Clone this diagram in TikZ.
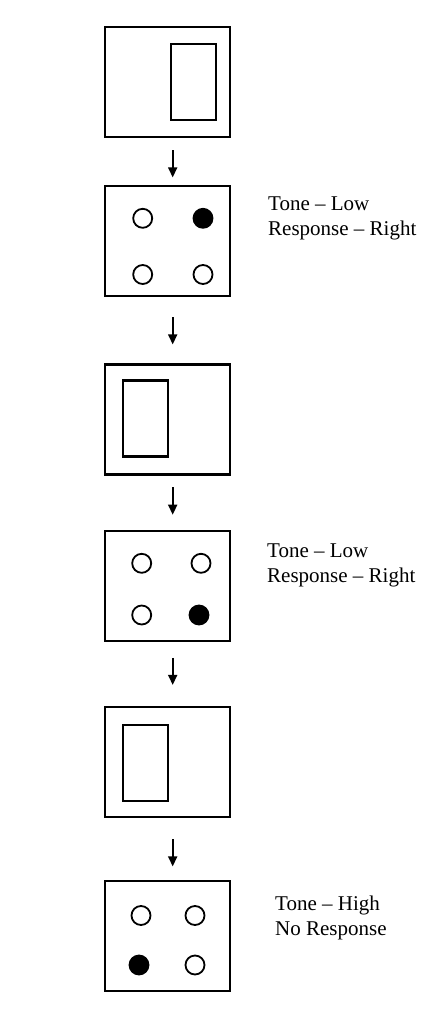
\documentclass[tikz,border=0pt]{standalone}
\usepackage{fontspec}
\setmainfont{Liberation Serif}
\usetikzlibrary{arrows.meta}

\begin{document}
\begin{tikzpicture}[
		x=1pt, y=-1pt,
		screen/.style={rectangle, draw, line width=2.2pt, minimum width=125pt, minimum height=110pt, inner sep=0pt},
		bar/.style={rectangle, draw, line width=2.2pt, minimum width=45pt, minimum height=76pt, inner sep=0pt},
		key/.style={circle, draw, line width=1.8pt, minimum size=19pt, inner sep=0pt},
		lit/.style={key, fill},
		note/.style={align=left, anchor=west, inner sep=0pt, font=\fontsize{21}{25}\selectfont},
		flow/.style={line width=1.7pt, -{Triangle[length=10pt, width=9pt]}}
	]
  \useasboundingbox (0,0) rectangle (438,1010);
  \node (s1) [screen] at (167.7, 81.7) {};
  \node (s2) [screen] at (167.7, 240.8) {};
  \node (s3) [screen] at (167.7, 419.5) {};
  \node (s4) [screen] at (167.7, 585.8) {};
  \node (s5) [screen] at (167.7, 762) {};
  \node (s6) [screen] at (167.7, 935.8) {};
  \node (bar1) [bar] at (193.8, 82.3) {};
  \node (bar3) [bar] at (145.8, 418.5) {};
  \node (bar5) [bar] at (145.8, 763) {};
  \node (k2_tl) [key] at (142.7, 218.3) {};
  \node (k2_tr) [lit] at (203, 218.3) {};
  \node (k2_bl) [key] at (142.7, 274.5) {};
  \node (k2_br) [key] at (203, 274.5) {};
  \node (k4_tl) [key] at (141.7, 563.3) {};
  \node (k4_tr) [key] at (201, 563.3) {};
  \node (k4_bl) [key] at (141.7, 615) {};
  \node (k4_br) [lit] at (199, 615) {};
  \node (k6_tl) [key] at (141, 915.5) {};
  \node (k6_tr) [key] at (195, 915.5) {};
  \node (k6_bl) [lit] at (139, 965) {};
  \node (k6_br) [key] at (195, 965) {};
  \node (n2) [note] at (268, 218.3) {Tone -- Low\\Response -- Right};
  \node (n4) [note] at (267, 565.3) {Tone -- Low\\Response -- Right};
  \node (n6) [note] at (275, 918) {Tone -- High\\No Response};
  \draw [flow, shorten <=12.3pt, shorten >=7.3pt] ([xshift=5pt]s1.south) -- ([xshift=5pt]s2.north);
  \draw [flow, shorten <=20.4pt, shorten >=19pt] ([xshift=5pt]s2.south) -- ([xshift=5pt]s3.north);
  \draw [flow, shorten <=11.6pt, shorten >=15pt] ([xshift=5pt]s3.south) -- ([xshift=5pt]s4.north);
  \draw [flow, shorten <=16pt, shorten >=21pt] ([xshift=5pt]s4.south) -- ([xshift=5pt]s5.north);
  \draw [flow, shorten <=21pt, shorten >=13.3pt] ([xshift=5pt]s5.south) -- ([xshift=5pt]s6.north);
\end{tikzpicture}
\end{document}
